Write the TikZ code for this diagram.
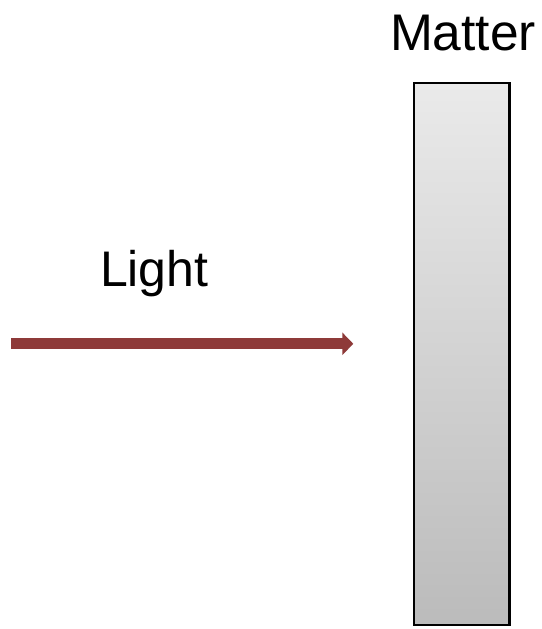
\documentclass[tikz,border=0pt]{standalone}
\usepackage{fontspec}
\setmainfont{Liberation Sans}
\usetikzlibrary{arrows.meta}
\definecolor{beamred}{RGB}{142,58,57}
\definecolor{slabtop}{RGB}{234,234,234}
\definecolor{slabbottom}{RGB}{187,187,187}
\tikzset{
  caption/.style={anchor=base west, inner sep=0pt, outer sep=0pt, text=black},
  slab/.style={draw=black, line width=2.3pt, top color=slabtop, bottom color=slabbottom,
    inner sep=0pt, outer sep=0pt},
  beam/.style={draw=beamred, line width=11pt, line cap=butt,
    -{Triangle[length=11pt, width=22pt, fill=beamred]}}
}
\begin{document}
\begin{tikzpicture}[x=1pt, y=1pt]
  \useasboundingbox (0,0) rectangle (541,-629);
  % labels
  \node[caption, font=\fontsize{50}{60}\selectfont] (light) at (100,-286) {Light};
  \node[caption, font=\fontsize{51.5}{62}\selectfont] (mattertext) at (390,-50) {Matter};
  % the slab of matter
  \node[slab, minimum width=95.5pt, minimum height=542.3pt] (slab) at (461.75,-354.15) {};
  % incoming light beam
  \coordinate (beamstart) at (11,-343.8);
  \coordinate (beamend) at (353.3,-343.8);
  \draw[beam] (beamstart) -- (beamend);
\end{tikzpicture}
\end{document}
